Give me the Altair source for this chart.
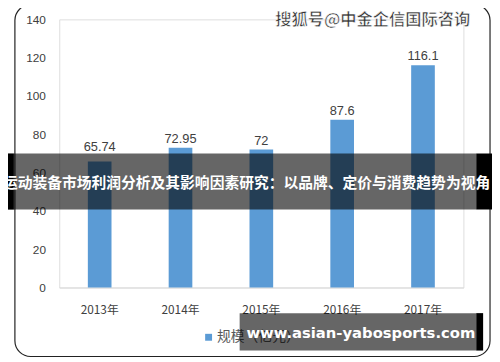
import altair as alt
import pandas as pd

years = ["2013年", "2014年", "2015年", "2016年", "2017年"]
values = [65.74, 72.95, 72, 87.6, 116.1]
value_labels = ["65.74", "72.95", "72", "87.6", "116.1"]
y_ticks = [0, 20, 40, 60, 80, 100, 120, 140]
legend_label = ["规模（亿元）"]
watermark = ["搜狐号@中金企信国际咨询"]
banner_title = ["运动装备市场利润分析及其影响因素研究：以品牌、定价与消费趋势为视角"]
site = ["www.asian-yabosports.com"]

df = pd.DataFrame({"year": years, "value": values, "label": value_labels})
one = pd.DataFrame({"k": [0]})

W, H = 410, 272
FONT = "Liberation Sans"
CJK = "Noto Sans CJK SC"

x = alt.X("year:N", sort=years,
          scale=alt.Scale(paddingInner=0, paddingOuter=0),
          axis=alt.Axis(title=None, labelAngle=0, ticks=False, domainColor="#d9d9d9",
                        labelColor="#404040", labelFontSize=12, labelPadding=17,
                        labelFont=CJK, zindex=0))
y = alt.Y("value:Q", scale=alt.Scale(domain=[0, 140]),
          axis=alt.Axis(title=None, values=y_ticks, grid=False, domain=False, ticks=False,
                        labelPadding=14, labelColor="#404040", labelFontSize=12,
                        labelFont=FONT, zindex=0))

base = alt.Chart(df)
dummy = alt.Chart(one)

frame = dummy.mark_rect(fillOpacity=0, stroke="#222222", strokeWidth=1.2, cornerRadius=16).encode(
    x=alt.value(-45), x2=alt.value(437), y=alt.value(-15), y2=alt.value(342))

bars = base.mark_bar(size=24, color="#5b9bd5").encode(x=x, y=y)
labels = base.transform_filter(alt.datum.year != years[0]).mark_text(
    baseline="bottom", dy=-2, fontSize=13, color="#404040", font=FONT).encode(
    x=x, y=y, text="label:N")
label_first = base.transform_filter(alt.datum.year == years[0]).mark_text(
    baseline="bottom", dy=-8, fontSize=13, color="#404040", font=FONT).encode(
    x=x, y=y, text="label:N")

leg_sq = dummy.mark_rect(color="#5b9bd5").encode(
    x=alt.value(148), x2=alt.value(155), y=alt.value(319), y2=alt.value(326))
leg_txt = alt.Chart(pd.DataFrame({"t": legend_label})).mark_text(
    align="left", baseline="middle", fontSize=14, color="#595959", font=CJK).encode(
    x=alt.value(160), y=alt.value(322), text="t:N")

wm = alt.Chart(pd.DataFrame({"t": watermark})).mark_text(
    align="right", baseline="middle", fontSize=16.5, fontWeight="bold", color="#333333",
    stroke="white", strokeWidth=0.6, font=CJK).encode(
    x=alt.value(417), y=alt.value(1), text="t:N")

band = dummy.mark_rect(color="black", opacity=0.6).encode(
    x=alt.value(-46), x2=alt.value(423), y=alt.value(136), y2=alt.value(193))
band_l = dummy.mark_rect(color="black").encode(
    x=alt.value(-60), x2=alt.value(-46), y=alt.value(136), y2=alt.value(193))
band_r = dummy.mark_rect(color="black").encode(
    x=alt.value(423), x2=alt.value(440), y=alt.value(136), y2=alt.value(193))
band_txt = alt.Chart(pd.DataFrame({"t": banner_title})).mark_text(
    align="center", baseline="middle", fontSize=15, fontWeight="bold", color="white", font=CJK).encode(
    x=alt.value(190), y=alt.value(166), text="t:N")

site_box = dummy.mark_rect(color="black", opacity=0.6).encode(
    x=alt.value(183), x2=alt.value(423), y=alt.value(298), y2=alt.value(336))
site_r = dummy.mark_rect(color="black").encode(
    x=alt.value(423), x2=alt.value(430), y=alt.value(298), y2=alt.value(336))
site_txt = alt.Chart(pd.DataFrame({"t": site})).mark_text(
    align="center", baseline="middle", fontSize=15, fontWeight="bold", color="white", font="DejaVu Sans").encode(
    x=alt.value(306), y=alt.value(318), text="t:N")

chart = alt.layer(
    frame, bars, labels, label_first, leg_sq, leg_txt, wm,
    band, band_l, band_r, band_txt, site_box, site_r, site_txt
).properties(
    width=W, height=H,
    autosize=alt.AutoSizeParams(type="none"),
    padding={"left": 52, "top": 9, "right": 29, "bottom": 70},
).configure_view(stroke=None).configure(background="white")

chart.save("out.html", embed_options={"renderer": "svg", "actions": False})
